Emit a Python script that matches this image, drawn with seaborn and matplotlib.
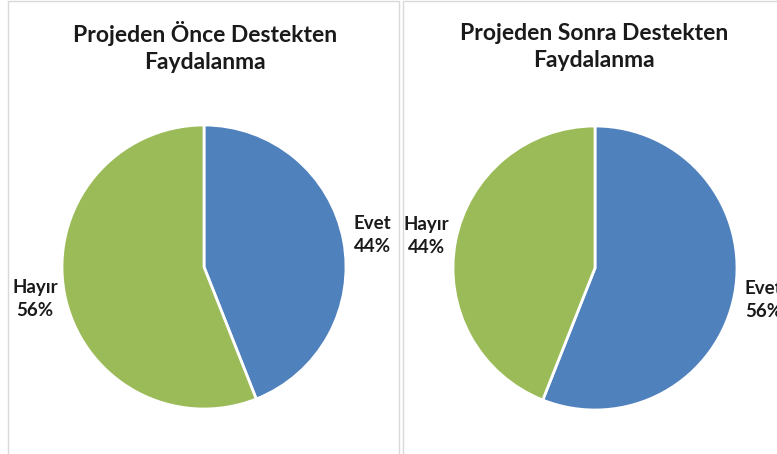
import matplotlib
matplotlib.use("Agg")
import matplotlib.pyplot as plt
import seaborn as sns
from matplotlib.patches import Rectangle

# data
categories = ["Evet", "Hayır"]
before_values = [44, 56]
after_values = [56, 44]
titles = ["Projeden Önce Destekten\nFaydalanma", "Projeden Sonra Destekten\nFaydalanma"]

sns.set_theme(style="white")
plt.rcParams['font.family'] = ['Lato', 'DejaVu Sans']
colors = ["#4F81BD", "#9BBB59"]

W, H = 777, 454
fig = plt.figure(figsize=(W / 100, H / 100), dpi=100)
ax = fig.add_axes([0, 0, 1, 1])

# panel boxes (pixel coords, y flipped)
boxes = [(8, 399), (403, 790)]
centers = [(204, 267), (595, 268)]
title_x = [205, 594]
radius = 142

for (x0, x1), (cx, cy), vals, title, tx in zip(boxes, centers, [before_values, after_values], titles, title_x):
    ax.add_patch(Rectangle((x0, -10), x1 - x0, H - 1 + 10, fill=False,
                           edgecolor="#D9D9D9", linewidth=1.0))
    labels = [f"{c}\n{v}%" for c, v in zip(categories, vals)]
    wedges, texts = ax.pie(vals, colors=colors, startangle=90, counterclock=False,
                           center=(cx, H - cy), radius=radius, labels=labels,
                           labeldistance=1.21,
                           wedgeprops=dict(edgecolor="white", linewidth=2),
                           textprops=dict(fontsize=13.5, fontweight="bold", color="#1a1a1a",
                                          linespacing=1.4))
    for t in texts:
        t.set_ha("center")
        t.set_va("center")
    ax.text(tx, H - 47, title, ha="center", va="center", fontsize=16.5,
            fontweight="bold", color="#1a1a1a", linespacing=1.3)

ax.set_xlim(0, W)
ax.set_ylim(0, H)
ax.set_aspect("auto")
ax.axis("off")

fig.savefig("out.png", dpi=100)
